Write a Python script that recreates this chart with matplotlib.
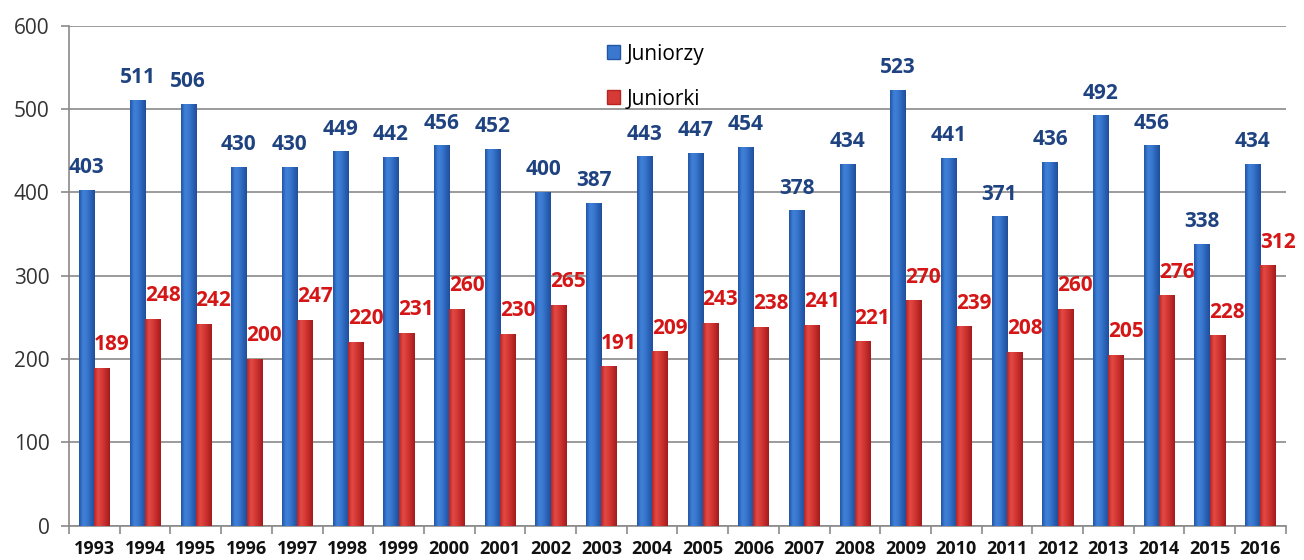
import numpy as np
import matplotlib
matplotlib.use("Agg")
import matplotlib.pyplot as plt
from matplotlib.colors import LinearSegmentedColormap
from matplotlib.patches import Patch

# dane z wykresu
years = [str(y) for y in range(1993, 2017)]
juniorzy = [403, 511, 506, 430, 430, 449, 442, 456, 452, 400, 387, 443,
            447, 454, 378, 434, 523, 441, 371, 436, 492, 456, 338, 434]
juniorki = [189, 248, 242, 200, 247, 220, 231, 260, 230, 265, 191, 209,
            243, 238, 241, 221, 270, 239, 208, 260, 205, 276, 228, 312]
y_ticks = [0, 100, 200, 300, 400, 500, 600]

plt.rcParams['font.family'] = ['Open Sans', 'DejaVu Sans']

blue_cmap = LinearSegmentedColormap.from_list(
    "blue", ["#2355a6", "#3f80d8", "#3a78cf", "#2a62b6", "#1f4f9a"])
red_cmap = LinearSegmentedColormap.from_list(
    "red", ["#b82424", "#e24a45", "#d63a36", "#c02a28", "#a01c1c"])


def shade_bars(ax, bars, cmap):
    # cylinder-like shading: gradient image clipped to each bar
    grad = np.linspace(0, 1, 64).reshape(1, -1)
    for p in bars.patches:
        x0, y0 = p.get_x(), p.get_y()
        w, h = p.get_width(), p.get_height()
        ax.imshow(grad, extent=[x0, x0 + w, y0, y0 + h], aspect='auto',
                  cmap=cmap, zorder=3, interpolation='bilinear')


fig = plt.figure(figsize=(13.04, 5.6), dpi=100)
ax = fig.add_axes([0.053, 0.061, 0.933, 0.893])

x = np.arange(len(years))
w = 0.3
b1 = ax.bar(x - w / 2, juniorzy, w, color="#3a78cf", zorder=2)
b2 = ax.bar(x + w / 2, juniorki, w, color="#d63a36", zorder=2)
shade_bars(ax, b1, blue_cmap)
shade_bars(ax, b2, red_cmap)

for xi, v in zip(x, juniorzy):
    ax.annotate(str(v), (xi - w / 2, v), xytext=(0, 12), textcoords='offset pixels',
                ha='center', va='bottom', fontsize=15, fontweight='bold',
                color="#1f4280", zorder=5)
for xi, v in zip(x, juniorki):
    ax.annotate(str(v), (xi + w / 2, v), xytext=(10, 13), textcoords='offset pixels',
                ha='center', va='bottom', fontsize=15, fontweight='bold',
                color="#d41616", zorder=5)

ax.set_xlim(-0.5, len(years) - 0.5)
ax.set_ylim(0, 600)
ax.set_yticks(y_ticks)
ax.set_yticklabels([str(t) for t in y_ticks], fontsize=15, color="#333333")
ax.yaxis.grid(True, color="#8a8a8a", linewidth=1.2, zorder=0)
ax.set_axisbelow(True)

ax.set_xticks(x)
ax.set_xticklabels(years, fontsize=13, fontweight='bold', color="#111111")
ax.set_xticks(np.arange(-0.5, len(years)), minor=True)
ax.tick_params(axis='x', which='major', length=0, pad=10)
ax.tick_params(axis='x', which='minor', length=6, color="#8a8a8a", width=1.2)
ax.tick_params(axis='y', length=6, color="#8a8a8a", width=1.2, pad=8)

for s in ['top', 'right']:
    ax.spines[s].set_visible(False)
for s in ['left', 'bottom']:
    ax.spines[s].set_color("#8a8a8a")
    ax.spines[s].set_linewidth(1.2)

handles = [Patch(facecolor="#3a78cf", edgecolor="#2355a6", label="Juniorzy"),
           Patch(facecolor="#d63a36", edgecolor="#b82424", label="Juniorki")]
leg = ax.legend(handles=handles, loc='upper left', bbox_to_anchor=(0.423, 1.01),
                frameon=False, fontsize=15, handlelength=0.65, handleheight=0.65,
                handletextpad=0.3, labelspacing=1.15, borderpad=0.6)
leg.set_zorder(4)

fig.savefig("out.png", dpi=100, facecolor='white')
